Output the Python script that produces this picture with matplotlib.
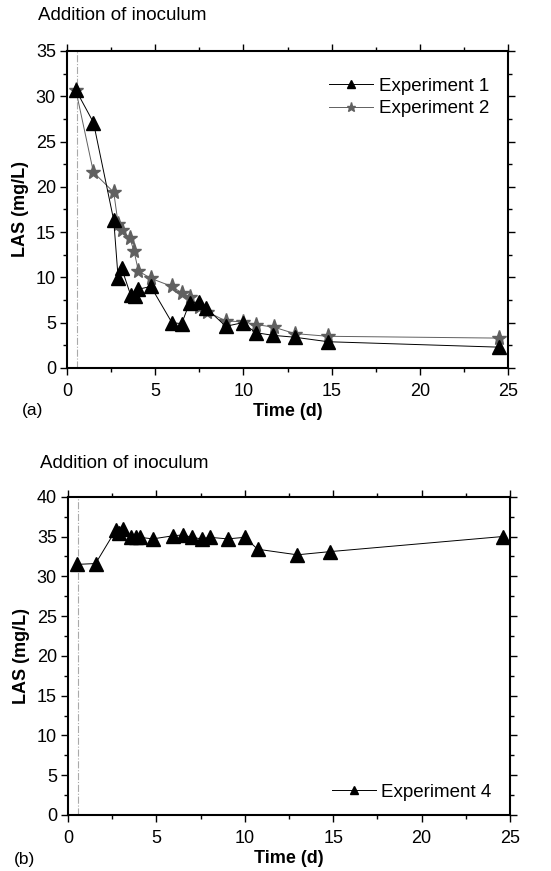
import numpy as np
import matplotlib
matplotlib.use('Agg')
import matplotlib.pyplot as plt
from matplotlib.ticker import MultipleLocator

plt.rcParams['font.family'] = ['Liberation Sans', 'DejaVu Sans']

# panel (a)
t1 = [0.5, 1.5, 2.65, 2.9, 3.1, 3.6, 3.85, 4.05, 4.75, 5.95, 6.5, 6.95, 7.5, 7.9, 9.0, 9.95, 10.7, 11.7, 12.9, 14.8, 24.5]
las1 = [30.7, 27.1, 16.3, 9.9, 11.0, 8.1, 8.0, 8.7, 9.0, 5.0, 4.9, 7.2, 7.3, 6.6, 4.6, 5.0, 3.9, 3.6, 3.4, 2.9, 2.3]
t2 = [0.5, 1.5, 2.65, 2.9, 3.1, 3.55, 3.8, 4.05, 4.75, 5.95, 6.5, 6.95, 7.5, 7.95, 9.0, 9.95, 10.7, 11.75, 12.9, 14.8, 24.5]
las2 = [30.7, 21.6, 19.4, 15.9, 15.2, 14.4, 12.9, 10.7, 9.9, 9.0, 8.3, 7.8, 6.7, 6.2, 5.2, 5.1, 4.8, 4.5, 3.8, 3.5, 3.3]

# panel (b)
t4 = [0.53, 1.56, 2.7, 2.9, 3.13, 3.55, 3.85, 4.07, 4.8, 5.96, 6.52, 7.0, 7.56, 8.03, 9.03, 10.0, 10.73, 12.97, 14.82, 24.6]
las4 = [31.5, 31.6, 35.8, 35.4, 36.0, 35.0, 35.0, 34.9, 34.7, 35.1, 35.2, 34.9, 34.7, 34.9, 34.7, 34.9, 33.4, 32.7, 33.1, 35.0]

inoculum_t = 0.55
gray = '#606060'

fig = plt.figure(figsize=(5.51, 8.71), dpi=100)
ax1 = fig.add_axes([0.1216, 0.5775, 0.8004, 0.364])
ax2 = fig.add_axes([0.1234, 0.0643, 0.802, 0.3654])


def style(ax, ymax):
    ax.set_xlim(0, 25)
    ax.set_ylim(0, ymax)
    ax.xaxis.set_major_locator(MultipleLocator(5))
    ax.xaxis.set_minor_locator(MultipleLocator(2.5))
    ax.yaxis.set_major_locator(MultipleLocator(5))
    ax.yaxis.set_minor_locator(MultipleLocator(2.5))
    ax.tick_params(which='both', direction='out', top=True, right=True, labelsize=13, width=1.0)
    ax.tick_params(which='major', length=5)
    ax.tick_params(which='minor', length=3)
    ax.tick_params(axis='x', which='major', pad=6)
    ax.tick_params(axis='y', which='major', pad=3)
    for s in ax.spines.values():
        s.set_linewidth(1.5)
    ax.axvline(inoculum_t, color='#aaaaaa', linestyle='-.', linewidth=0.8, zorder=0)
    ax.set_xlabel('Time (d)', fontsize=13, fontweight='bold', labelpad=2)
    ax.set_ylabel('LAS (mg/L)', fontsize=13, fontweight='bold', labelpad=5)


leg_kw = dict(frameon=False, fontsize=13.5, markerscale=0.6, handlelength=2.35,
              handletextpad=0.3, borderaxespad=0, borderpad=0, labelspacing=0.3)

ax1.plot(t1, las1, color='black', linewidth=0.7, marker='^', markersize=10, label='Experiment 1', zorder=3)
ax1.plot(t2, las2, color=gray, linewidth=0.7, marker='*', markersize=11, label='Experiment 2', zorder=2)
style(ax1, 35)
ax1.legend(loc='center left', bbox_to_anchor=(0.594, 0.853), **leg_kw)
fig.text(0.069, 0.982, 'Addition of inoculum', fontsize=13.5, va='center')
fig.text(0.04, 0.529, '(a)', fontsize=12.5, va='center')

ax2.plot(t4, las4, color='black', linewidth=0.7, marker='^', markersize=10, label='Experiment 4')
style(ax2, 40)
ax2.legend(loc='center left', bbox_to_anchor=(0.597, 0.0723), **leg_kw)
fig.text(0.073, 0.468, 'Addition of inoculum', fontsize=13.5, va='center')
fig.text(0.025, 0.013, '(b)', fontsize=12.5, va='center')

fig.savefig('out.png', dpi=100)
